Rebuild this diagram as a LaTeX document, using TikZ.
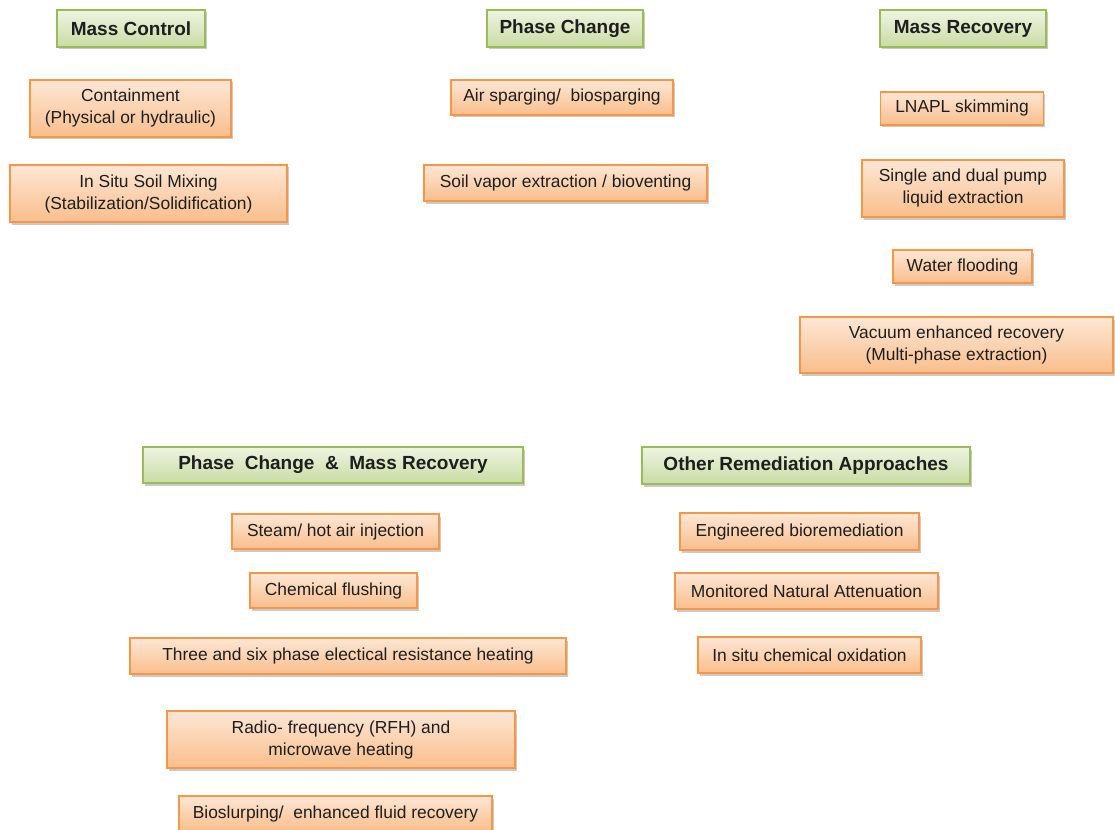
\documentclass[tikz,border=0pt]{standalone}
\usepackage{xcolor}
\usepackage{fontspec}
\setmainfont{Liberation Sans}
\usepackage{tikz}
\usetikzlibrary {shadows, shapes, positioning}

\definecolor{orgline}{HTML}{F79646}
\definecolor{orgtop}{HTML}{FDE7D5}
\definecolor{orgbot}{HTML}{F9BE8C}
\definecolor{grnline}{HTML}{9BBB59}
\definecolor{grntop}{HTML}{EEF4E2}
\definecolor{grnbot}{HTML}{C9DCA3}
\definecolor{inktext}{HTML}{1E1E1E}

\begin{document}
\begin{tikzpicture}[x=1pt, y=-1pt,
    box/.style={draw=orgline, line width=1.4pt, top color=orgtop, bottom color=orgbot,
      inner sep=0pt, align=center, text=inktext, font=\fontsize{17.4}{22}\selectfont,
      drop shadow={shadow xshift=1.5pt, shadow yshift=-2.5pt, opacity=0.35, fill=black!60}},
    head/.style={box, draw=grnline, top color=grntop, bottom color=grnbot,
      minimum height=37pt, font=\fontsize{19}{22}\selectfont\bfseries}]
  \useasboundingbox (0,0) rectangle (1115,829);
  % group headings
  \node [head, minimum width=148pt] (masscontrol) at (131,28.5) {Mass Control};
  \node [head, minimum width=156pt] (phasechange) at (565,28.5) {Phase Change};
  \node [head, minimum width=166pt] (massrecovery) at (963,28.5) {Mass Recovery};
  \node [head, minimum width=380pt, minimum height=36pt] (phasemass) at (333,465) {Phase\ \ Change\ \ \&\ \ Mass Recovery};
  \node [head, minimum width=328pt] (otherappr) at (806,465.5) {Other Remediation Approaches};
  % mass control
  \node [box, minimum width=201pt, minimum height=57pt] (containment) at (130.5,108.5) {Containment\\(Physical or hydraulic)};
  \node [box, minimum width=277pt, minimum height=57pt] (soilmixing) at (148.5,193.5) {In Situ Soil Mixing\\(Stabilization/Solidification)};
  % phase change
  \node [box, minimum width=222pt, minimum height=35pt] (airsparging) at (562,97.5) {Air sparging/\ \ biosparging};
  \node [box, minimum width=283pt, minimum height=36pt] (vaporext) at (565.5,183) {Soil vapor extraction / bioventing};
  % mass recovery
  \node [box, minimum width=163pt, minimum height=33pt] (skimming) at (962,108.5) {LNAPL skimming};
  \node [box, minimum width=202pt, minimum height=57pt] (dualpump) at (963,188.5) {Single and dual pump\\liquid extraction};
  \node [box, minimum width=139pt, minimum height=33pt] (flooding) at (962.5,266.5) {Water flooding};
  \node [box, minimum width=313pt, minimum height=56pt] (vacuum) at (956.5,345) {Vacuum enhanced recovery\\(Multi-phase extraction)};
  % phase change and mass recovery
  \node [box, minimum width=207pt, minimum height=35pt] (steam) at (335.5,531.5) {Steam/ hot air injection};
  \node [box, minimum width=167pt, minimum height=35pt] (flushing) at (333.5,590.5) {Chemical flushing};
  \node [box, minimum width=436pt, minimum height=36pt] (resheating) at (348,656) {Three and six phase electical resistance heating};
  \node [box, minimum width=348pt, minimum height=57pt] (rfheating) at (341,739.5) {Radio- frequency (RFH) and\\microwave heating};
  \node [box, minimum width=313pt, minimum height=35pt] (bioslurp) at (335.5,813.5) {Bioslurping/\ \ enhanced fluid recovery};
  % other approaches
  \node [box, minimum width=239pt, minimum height=37pt] (bioremed) at (799.5,531.5) {Engineered bioremediation};
  \node [box, minimum width=263pt, minimum height=36pt] (natatten) at (806.5,591) {Monitored Natural Attenuation};
  \node [box, minimum width=223pt, minimum height=36pt] (chemoxid) at (809.5,655) {In situ chemical oxidation};
\end{tikzpicture}
\end{document}
